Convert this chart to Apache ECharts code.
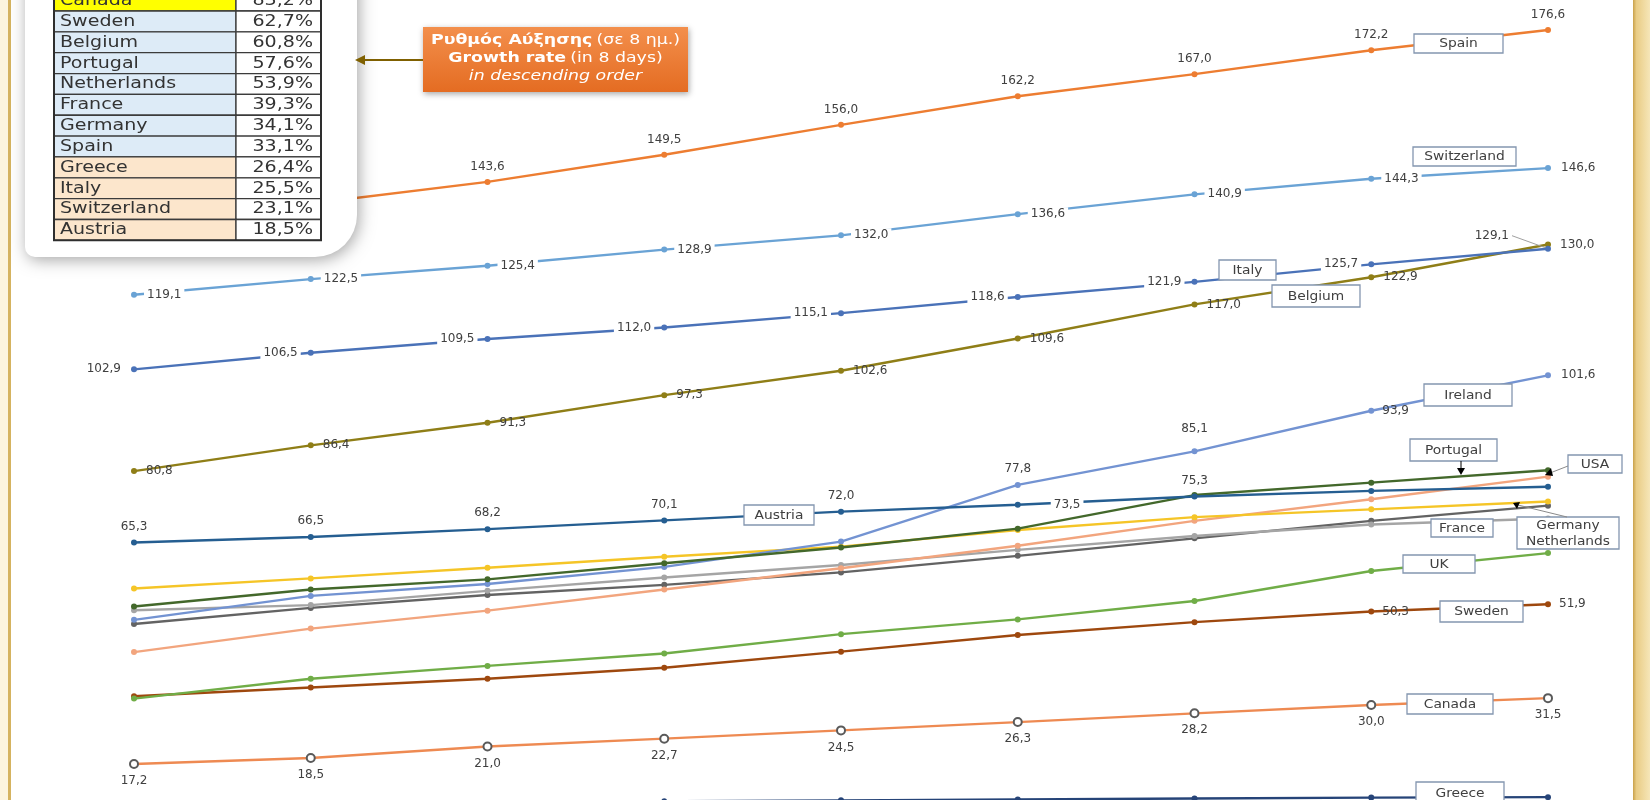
<!DOCTYPE html>
<html><head><meta charset="utf-8">
<script src="https://cdn.jsdelivr.net/npm/echarts@6/dist/echarts.min.js"></script>
<style>html,body{margin:0;padding:0;background:#fff}#c{width:1650px;height:800px}</style>
</head><body><div id="c"></div><script>
// ---- data ----
const days = ['D1','D2','D3','D4','D5','D6','D7','D8','D9'];
const spain       = [132.7, 138.9, 143.6, 149.5, 156.0, 162.2, 167.0, 172.2, 176.6];
const switzerland = [119.1, 122.5, 125.4, 128.9, 132.0, 136.6, 140.9, 144.3, 146.6];
const italy       = [102.9, 106.5, 109.5, 112.0, 115.1, 118.6, 121.9, 125.7, 129.1];
const belgium     = [80.8, 86.4, 91.3, 97.3, 102.6, 109.6, 117.0, 122.9, 130.0];
const ireland     = [48.5, 53.7, 56.3, 60.0, 65.5, 77.8, 85.1, 93.9, 101.6];
const austria     = [65.3, 66.5, 68.2, 70.1, 72.0, 73.5, 75.3, 76.5, 77.4];
const portugal    = [51.4, 55.1, 57.3, 60.8, 64.2, 68.3, 75.6, 78.3, 81.0];
const usa         = [41.5, 46.6, 50.5, 55.1, 59.7, 64.6, 70.0, 74.7, 79.6];
const germany     = [55.3, 57.5, 59.8, 62.2, 64.4, 68.0, 70.8, 72.5, 74.2];
const france      = [50.6, 51.7, 54.8, 57.7, 60.4, 63.7, 66.7, 69.2, 70.5];
const netherlands = [47.6, 51.1, 53.9, 56.1, 58.8, 62.4, 66.2, 70.0, 73.3];
const uk          = [31.4, 35.7, 38.5, 41.2, 45.4, 48.6, 52.6, 59.1, 63.0];
const sweden      = [31.9, 33.8, 35.7, 38.1, 41.6, 45.2, 48.0, 50.3, 51.9];
const canada      = [17.2, 18.5, 21.0, 22.7, 24.5, 26.3, 28.2, 30.0, 31.5];
const greece      = [7.9, 8.3, 8.7, 9.1, 9.3, 9.5, 9.7, 9.9, 10.0];

const tableNames = ['Canada','Sweden','Belgium','Portugal','Netherlands','France','Germany','Spain','Greece','Italy','Switzerland','Austria'];
const tableRates = ['83,2%','62,7%','60,8%','57,6%','53,9%','39,3%','34,1%','33,1%','26,4%','25,5%','23,1%','18,5%'];

const F = 'DejaVu Sans';
const fmt = v => v.toFixed(1).replace('.', ',');

// ---- series styling ----
const defs = [
  {name:'Greece', data:greece, color:'#264478'},
  {name:'Canada', data:canada, color:'#EE8A52', hollow:true, lab:{pos:'bottom', dist:6}},
  {name:'Sweden', data:sweden, color:'#9E480E', lab:{pos:'right', dist:8, from:7}},
  {name:'UK', data:uk, color:'#70AD47'},
  {name:'Netherlands', data:netherlands, color:'#636363'},
  {name:'France', data:france, color:'#A5A5A5'},
  {name:'USA', data:usa, color:'#F2A57E'},
  {name:'Germany', data:germany, color:'#F5C527'},
  {name:'Ireland', data:ireland, color:'#7393D2', lab:{pos:'top', dist:7, from:5, over:{6:{distance:13}, 7:{position:'right', distance:8}, 8:{position:'right', distance:10}}}},
  {name:'Portugal', data:portugal, color:'#43682B'},
  {name:'Austria', data:austria, color:'#255E91', lab:{pos:'top', dist:7, to:6, over:{5:{position:'right', distance:30, backgroundColor:'#fff', padding:[1,3]}}}},
  {name:'Belgium', data:belgium, color:'#8F7E17', lab:{pos:'right', dist:9}},
  {name:'Italy', data:italy, color:'#4A72B8', lab:{pos:'left', dist:7, bg:true, over:{8:{position:'left', distance:7, backgroundColor:'transparent'}}}},
  {name:'Switzerland', data:switzerland, color:'#6AA3D5', lab:{pos:'right', dist:7, bg:true}},
  {name:'Spain', data:spain, color:'#ED7D31', lab:{pos:'top', dist:6, from:2}}
];

const series = defs.map((d, si) => {
  const items = d.data.map((v, i) => {
    const it = {value: v};
    const L = d.lab;
    if (L && i >= (L.from || 0) && i <= (L.to === undefined ? 99 : L.to)) {
      it.label = Object.assign({
        show: true, position: L.pos, distance: L.dist,
        color: '#404040', fontSize: 12, fontFamily: F,
        backgroundColor: L.bg ? '#fff' : 'transparent', padding: L.bg ? [1,3] : 0,
        formatter: p => fmt(p.value)
      }, (L.over && L.over[i]) || {});
    } else {
      it.label = {show: false};
    }
    return it;
  });
  const s = {
    type: 'line', name: d.name, data: items, clip: false,
    symbol: 'circle', symbolSize: d.hollow ? 8 : 6, showSymbol: true,
    lineStyle: {color: d.color, width: 2.4},
    itemStyle: d.hollow ? {color: '#fff', borderColor: '#5a5a5a', borderWidth: 2} : {color: d.color},
    emphasis: {disabled: true}, z: 2 + si * 0.01, animation: false
  };
  if (d.name === 'Italy') {
    s.labelLayout = p => p.dataIndex === 8 ? {dx: -26, dy: -13} : {};
    s.labelLine = {show: false};
    items[8].labelLine = {show: true, lineStyle: {color: '#A0A0A0', width: 1}};
  }
  return s;
});

// ---- graphic annotations ----
const g = [];
// frame
g.push({type:'rect', shape:{x:0, y:0, width:9, height:800}, style:{fill:'#FCF4DE'}, z:90});
g.push({type:'rect', shape:{x:8, y:0, width:3, height:800}, style:{fill:'#D5B360'}, z:90});
g.push({type:'rect', shape:{x:1633, y:0, width:17, height:800},
  style:{fill:new echarts.graphic.LinearGradient(0,0,1,0,[{offset:0,color:'#C9A14A'},{offset:0.2,color:'#E9CC85'},{offset:1,color:'#F6E6B8'}])}, z:90});

// table panel
g.push({type:'rect', shape:{x:25, y:-60, width:332, height:317, r:[0,0,42,10]},
  style:{fill:'#fff', shadowBlur:16, shadowColor:'rgba(0,0,0,0.35)', shadowOffsetX:2, shadowOffsetY:3}, z:100});
const tx0 = 54, tx1 = 236, tx2 = 321, rowH = 20.85, tTop = 11 - rowH;
tableNames.forEach((n, i) => {
  const y = tTop + i * rowH;
  const fill = i === 0 ? '#FFFF00' : (i <= 7 ? '#DDEBF7' : '#FCE6CC');
  g.push({type:'rect', shape:{x:tx0, y:y, width:tx1-tx0, height:rowH}, style:{fill:fill, stroke:'#3b3b3b', lineWidth:1.3}, z:101});
  g.push({type:'rect', shape:{x:tx1, y:y, width:tx2-tx1, height:rowH}, style:{fill:'#fff', stroke:'#3b3b3b', lineWidth:1.3}, z:101});
  g.push({type:'text', x:60, y:y + rowH/2 + 0.5, scaleX:1.27,
    style:{text:n, fill:'#333', font:'15px "DejaVu Sans"', verticalAlign:'middle', align:'left'}, z:102});
  g.push({type:'text', x:313, y:y + rowH/2 + 0.5, scaleX:1.27,
    style:{text:tableRates[i], fill:'#333', font:'15px "DejaVu Sans"', verticalAlign:'middle', align:'right'}, z:102});
});
g.push({type:'rect', shape:{x:tx0, y:tTop, width:tx2-tx0, height:rowH*tableNames.length}, style:{fill:'none', stroke:'#2e2e2e', lineWidth:2}, z:103});

// callout
const richW = {b:{fontFamily:F, fontWeight:'bold', fontSize:14, fill:'#fff', color:'#fff'}, n:{fontFamily:F, fontSize:14, fill:'#fff', color:'#fff'}};
g.push({type:'rect', shape:{x:423, y:27, width:265, height:65},
  style:{fill:new echarts.graphic.LinearGradient(0,0,0,1,[{offset:0,color:'#F38F4C'},{offset:1,color:'#E46C22'}]),
  shadowBlur:6, shadowColor:'rgba(0,0,0,0.35)', shadowOffsetX:1, shadowOffsetY:2}, z:100});
g.push({type:'text', x:555.5, y:40, scaleX:1.24, style:{text:'{b|Ρυθμός Αύξησης} {n|(σε 8 ημ.)}', align:'center', verticalAlign:'middle', rich:richW}, z:101});
g.push({type:'text', x:555.5, y:58, scaleX:1.24, style:{text:'{b|Growth rate} {n|(in 8 days)}', align:'center', verticalAlign:'middle', rich:richW}, z:101});
g.push({type:'text', x:555.5, y:76, scaleX:1.24, style:{text:'in descending order', fill:'#fff', font:'italic 14px "DejaVu Sans"', align:'center', verticalAlign:'middle'}, z:101});
g.push({type:'line', shape:{x1:423, y1:60, x2:362, y2:60}, style:{stroke:'#7F6000', lineWidth:2}, z:100});
g.push({type:'polygon', shape:{points:[[355,60],[365,55],[365,65]]}, style:{fill:'#7F6000'}, z:100});

// series name boxes
const boxes = [
  ['Spain', 1414, 34, 89, 19], ['Switzerland', 1413, 147, 103, 19], ['Italy', 1219, 260, 57, 20],
  ['Belgium', 1272, 285, 88, 22], ['Ireland', 1424, 384, 88, 22], ['Portugal', 1410, 439, 87, 22],
  ['USA', 1568, 455, 54, 18], ['France', 1431, 519, 62, 18], ['Germany\nNetherlands', 1517, 517, 102, 32],
  ['UK', 1403, 555, 72, 18], ['Sweden', 1440, 601, 83, 21], ['Canada', 1407, 694, 86, 20],
  ['Greece', 1416, 782, 88, 22], ['Austria', 744, 505, 70, 20]
];
// leaders
g.push({type:'line', shape:{x1:1461, y1:461, x2:1461, y2:469}, style:{stroke:'#000', lineWidth:1}, z:99});
g.push({type:'polygon', shape:{points:[[1461,475],[1457,468],[1465,468]]}, style:{fill:'#000'}, z:99});
g.push({type:'line', shape:{x1:1568, y1:466, x2:1550, y2:473}, style:{stroke:'#8a8a8a', lineWidth:1}, z:99});
g.push({type:'polygon', shape:{points:[[1545,475],[1551,468],[1553,476]]}, style:{fill:'#000'}, z:99});
g.push({type:'line', shape:{x1:1567, y1:517, x2:1518, y2:505}, style:{stroke:'#8a8a8a', lineWidth:1}, z:99});
g.push({type:'polygon', shape:{points:[[1513,503],[1520,502],[1517,509]]}, style:{fill:'#000'}, z:99});
boxes.forEach(b => {
  g.push({type:'rect', shape:{x:b[1], y:b[2], width:b[3], height:b[4]}, style:{fill:'#fff', stroke:'#8496B0', lineWidth:1.3}, z:98});
  g.push({type:'text', x:b[1] + b[3]/2, y:b[2] + b[4]/2 + 0.5, scaleX:1.15,
    style:{text:b[0], fill:'#404040', font:'12px "DejaVu Sans"', align:'center', verticalAlign:'middle', lineHeight:16}, z:99});
});

const chart = echarts.init(document.getElementById('c'), null, {renderer:'canvas'});
chart.setOption({
  animation: false,
  backgroundColor: '#fff',
  grid: {left: 134, right: 102, top: 14.3, bottom: 2.85, containLabel: false},
  xAxis: {type:'category', data: days, boundaryGap: false, show: false},
  yAxis: {type:'value', min: 10, max: 180, show: false, splitLine: {show: false}},
  series: series,
  graphic: {elements: g}
});
</script></body></html>
